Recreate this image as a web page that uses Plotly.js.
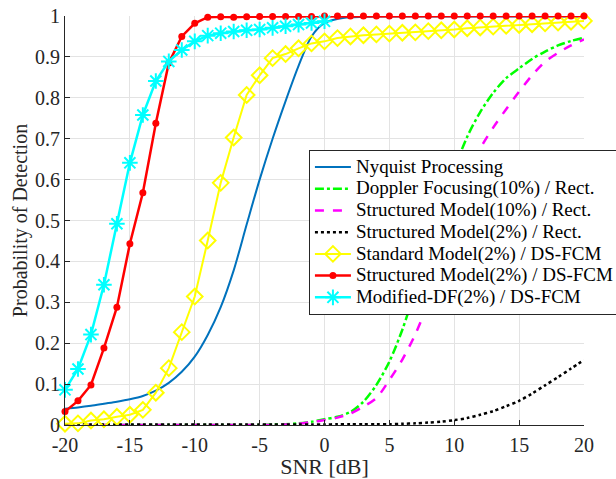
<!DOCTYPE html>
<html>
<head>
<meta charset="utf-8">
<script src="https://cdn.plot.ly/plotly-3.0.1.min.js"></script>
<style>html,body{margin:0;padding:0;background:#fff;}#chart{width:616px;height:479px;}</style>
</head>
<body>
<div id="chart"></div>
<script>
// SNR axis values (dB)
const snr = [-20,-19,-18,-17,-16,-15,-14,-13,-12,-11,-10,-9,-8,-7,-6,-5,-4,-3,-2,-1,0,1,2,3,4,5,6,7,8,9,10,11,12,13,14,15,16,17,18,19,20];
const snrDF = [-20,-19,-18,-17,-16,-15,-14,-13,-12,-11,-10,-9,-8,-7,-6,-5,-4,-3,-2,-1,0];

const nyquist = [0.040,0.043,0.047,0.052,0.057,0.063,0.071,0.084,0.103,0.130,0.167,0.220,0.288,0.378,0.490,0.600,0.700,0.792,0.878,0.950,0.983,0.993,0.997,0.998,0.999,0.999,0.999,0.999,0.999,0.999,0.999,0.999,0.999,0.999,0.999,0.999,0.999,0.999,0.999,0.999,0.999];
const dopplerRect10 = [0,0,0,0,0,0,0,0,0,0,0,0,0,0,0,0,0.001,0.002,0.004,0.008,0.014,0.020,0.032,0.057,0.098,0.155,0.233,0.330,0.430,0.530,0.625,0.705,0.765,0.812,0.848,0.872,0.895,0.913,0.928,0.939,0.947];
const structRect10 = [0,0,0,0,0,0,0,0,0,0,0,0,0,0,0,0,0,0.001,0.003,0.007,0.012,0.018,0.028,0.045,0.066,0.110,0.160,0.222,0.300,0.400,0.500,0.595,0.675,0.727,0.772,0.815,0.855,0.888,0.910,0.928,0.943];
const structRect2 = [0.001,0.001,0.001,0.001,0.001,0.001,0.001,0.001,0.001,0.001,0.001,0.001,0.001,0.001,0.001,0.001,0.001,0.001,0.001,0.001,0.001,0.002,0.002,0.002,0.002,0.002,0.003,0.004,0.006,0.008,0.012,0.017,0.025,0.034,0.046,0.059,0.077,0.097,0.117,0.138,0.159];
const standardFCM2 = [0.003,0.004,0.011,0.014,0.020,0.025,0.037,0.079,0.139,0.227,0.314,0.451,0.592,0.703,0.807,0.855,0.897,0.907,0.921,0.933,0.938,0.946,0.950,0.953,0.955,0.957,0.959,0.960,0.963,0.965,0.967,0.970,0.972,0.974,0.976,0.978,0.980,0.982,0.984,0.986,0.988];
const structFCM2 = [0.033,0.059,0.098,0.188,0.288,0.443,0.568,0.738,0.885,0.950,0.982,0.997,0.998,0.997,0.998,0.999,0.999,0.999,0.999,0.999,1,1,1,1,1,1,1,1,1,1,1,1,1,1,1,1,1,1,1,1,1];
const modDFFCM2 = [0.086,0.137,0.221,0.343,0.492,0.641,0.758,0.841,0.889,0.917,0.938,0.952,0.958,0.962,0.965,0.967,0.971,0.975,0.979,0.983,0.987];

const names = ["Nyquist Processing","Doppler Focusing(10%) / Rect.","Structured Model(10%) / Rect.","Structured Model(2%) / Rect.","Standard Model(2%) / DS-FCM","Structured Model(2%) / DS-FCM","Modified-DF(2%) / DS-FCM"];
const xTickVals = [-20,-15,-10,-5,0,5,10,15,20];
const xTickText = ['-20','-15','-10','-5','0','5','10','15','20'];
const yTickVals = [0,0.1,0.2,0.3,0.4,0.5,0.6,0.7,0.8,0.9,1];
const yTickText = ['0','0.1','0.2','0.3','0.4','0.5','0.6','0.7','0.8','0.9','1'];

const SERIF = 'Liberation Serif';
const lbl = s => '<span style="font-size:19px">' + s + '</span>';

const traces = [
  {x: snr, y: nyquist, name: lbl(names[0]), mode: 'lines', line: {color: '#0072BD', width: 2, shape: 'spline', smoothing: 0.8}},
  {x: snr, y: dopplerRect10, name: lbl(names[1]), mode: 'lines', line: {color: '#00FF00', width: 2.5, dash: 'dashdot', shape: 'spline', smoothing: 0.8}},
  {x: snr, y: structRect10, name: lbl(names[2]), mode: 'lines', line: {color: '#FF00FF', width: 2.5, dash: 'dash', shape: 'spline', smoothing: 0.8}},
  {x: snr, y: structRect2, name: lbl(names[3]), mode: 'lines', line: {color: '#000000', width: 2.5, dash: 'dot', shape: 'spline', smoothing: 0.8}},
  {x: snr, y: standardFCM2, name: lbl(names[4]), mode: 'lines+markers', cliponaxis: false, line: {color: '#FFFF00', width: 2}, marker: {symbol: 'diamond-open', size: 12, color: '#FFFF00', line: {color: '#FFFF00', width: 2}}},
  {x: snr, y: structFCM2, name: lbl(names[5]), mode: 'lines+markers', cliponaxis: false, line: {color: '#FF0000', width: 2.5}, marker: {symbol: 'circle', size: 7, color: '#FF0000'}},
  {x: snrDF, y: modDFFCM2, name: lbl(names[6]), mode: 'lines+markers', cliponaxis: false, line: {color: '#00FFFF', width: 2.5}, marker: {symbol: 'asterisk-open', size: 13, color: '#00FFFF', line: {color: '#00FFFF', width: 2}}}
];

const axFont = {family: SERIF, size: 20, color: '#262626'};
const layout = {
  width: 616, height: 479,
  margin: {l: 65, r: 32, t: 16, b: 54, autoexpand: false},
  paper_bgcolor: '#ffffff', plot_bgcolor: '#ffffff',
  font: {family: SERIF, color: '#000'},
  showlegend: true,
  xaxis: {
    range: [-20, 20], tickmode: 'array', tickvals: xTickVals, ticktext: xTickText,
    showgrid: true, gridcolor: '#e3e3e3', gridwidth: 1, zeroline: false,
    showline: true, linecolor: '#262626', linewidth: 1, mirror: false,
    ticks: 'inside', ticklen: 5, tickcolor: '#262626', tickfont: axFont, ticklabelstandoff: 2,
    title: {text: 'SNR [dB]', font: {family: SERIF, size: 22, color: '#262626'}, standoff: 4}
  },
  yaxis: {
    range: [0, 1], tickmode: 'array', tickvals: yTickVals, ticktext: yTickText,
    showgrid: true, gridcolor: '#e3e3e3', gridwidth: 1, zeroline: false,
    showline: true, linecolor: '#262626', linewidth: 1, mirror: false,
    ticks: 'inside', ticklen: 5, tickcolor: '#262626', tickfont: axFont,
    title: {text: 'Probability of Detection', font: {family: SERIF, size: 20, color: '#262626'}, standoff: 2}
  },
  legend: {
    x: 0.47, y: 0.672, xanchor: 'left', yanchor: 'top',
    bgcolor: '#ffffff', bordercolor: '#262626', borderwidth: 1,
    font: {family: SERIF, size: 14.4, color: '#000'},
    itemwidth: 36, tracegroupgap: 0
  }
};

Plotly.newPlot('chart', traces, layout, {displayModeBar: false, staticPlot: true});
</script>
</body>
</html>
